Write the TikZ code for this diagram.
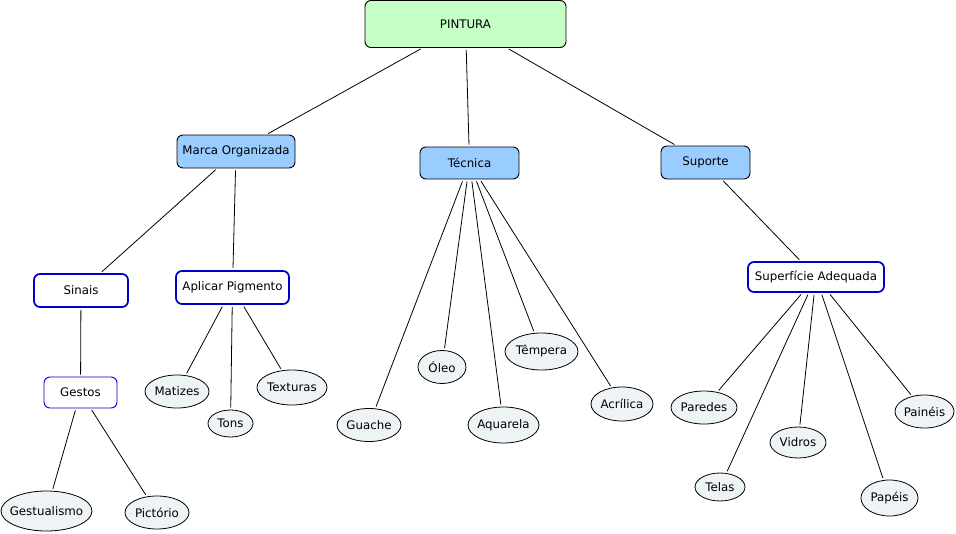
\documentclass[tikz,border=0pt]{standalone}
\usepackage{fontspec}
\setmainfont{DejaVu Sans}
\usetikzlibrary{shapes.geometric}
\definecolor{rootgreen}{RGB}{198,255,198}
\definecolor{conceptblue}{RGB}{153,204,255}
\definecolor{leafgray}{RGB}{238,243,245}
\definecolor{subblue}{RGB}{0,0,204}
\tikzset{root/.style={draw=black, fill=rootgreen, rounded corners=6pt, line width=0.9pt, minimum width=#1, minimum height=47pt, inner sep=0pt},
concept/.style={draw=black, fill=conceptblue, rounded corners=6pt, line width=0.9pt, minimum width=#1, minimum height=33pt, inner sep=0pt},
concept/.default={90pt},
sub/.style={draw=subblue, fill=white, rounded corners=6pt, line width=1.7pt, minimum width=#1, minimum height=32pt, inner sep=0pt},
sub/.default={94pt},
%negative inner sep so the ellipse keeps its minimum size
leaf/.style={ellipse, draw=black, fill=leafgray, line width=0.8pt, minimum width=#1, minimum height=33pt, inner xsep=-12pt, inner ysep=-4pt},
leaf/.default={64pt},
link/.style={draw=black, line width=0.8pt, shorten >=2pt, shorten <=2pt}}

\begin{document}
\begin{tikzpicture}[x=1pt, y=-1pt, font=\fontsize{11.8}{14}\selectfont]

    \useasboundingbox (0,0) rectangle (956,533);

    \node[root=201pt] (pin) at (465.5,24) {PINTURA};

    \node[concept=118pt] (mar) at (236,151.5) {Marca Organizada};
    \node[concept=99pt, minimum height=32pt] (tec) at (469.5,163) {Técnica};
    \node[concept=89pt] (sup) at (705.5,162.5) {Suporte};

    \node[sub=94pt, minimum height=33pt] (sin) at (81,290.5) {Sinais};
    \node[sub=113pt, minimum height=33pt] (apl) at (232.5,287.5) {Aplicar Pigmento};
    \node[sub=73pt, minimum height=31pt, line width=0.9pt] (ges) at (80.5,392.5) {Gestos};
    \node[sub=136pt, minimum height=30pt] (spf) at (816,277) {Superfície Adequada};

    \node[leaf=91pt, minimum height=40pt] (gsm) at (46.5,511) {Gestualismo};
    \node[leaf=64pt] (pic) at (157,512.5) {Pictório};
    \node[leaf=64pt] (mat) at (177,391.5) {Matizes};
    \node[leaf=45pt, minimum height=27pt] (ton) at (230.5,423.5) {Tons};
    \node[leaf=70pt, minimum height=35pt] (tex) at (292,387.5) {Texturas};

    \node[leaf=64pt] (gua) at (369,425) {Guache};
    \node[leaf=48pt] (ole) at (442,367) {Óleo};
    \node[leaf=71pt, minimum height=36pt] (aqu) at (503.5,425) {Aquarela};
    \node[leaf=73pt, minimum height=37pt] (tem) at (541.5,351.5) {Têmpera};
    \node[leaf=62pt, minimum height=34pt] (acr) at (622,404) {Acrílica};

    \node[leaf=66pt] (par) at (704,407.5) {Paredes};
    \node[leaf=50pt, minimum height=28pt] (tel) at (720,487) {Telas};
    \node[leaf=56pt, minimum height=31pt] (vid) at (798,442.5) {Vidros};
    \node[leaf=57pt, minimum height=36pt] (pap) at (889.5,498) {Papéis};
    \node[leaf=59pt] (pai) at (924.5,411.5) {Painéis};

    \foreach \i in {mar,tec,sup}
    \draw[link] (pin) -- (\i);

    \foreach \i in {sin,apl}
    \draw[link] (mar) -- (\i);

    \draw[link] (sin) -- (ges);

    \foreach \i in {gsm,pic}
    \draw[link] (ges) -- (\i);

    \foreach \i in {mat,ton,tex}
    \draw[link] (apl) -- (\i);

    \foreach \i in {gua,ole,aqu,tem,acr}
    \draw[link] (tec) -- (\i);

    \draw[link] (sup) -- (spf);

    \foreach \i in {par,tel,vid,pap,pai}
    \draw[link] (spf) -- (\i);

  \end{tikzpicture}
\end{document}
